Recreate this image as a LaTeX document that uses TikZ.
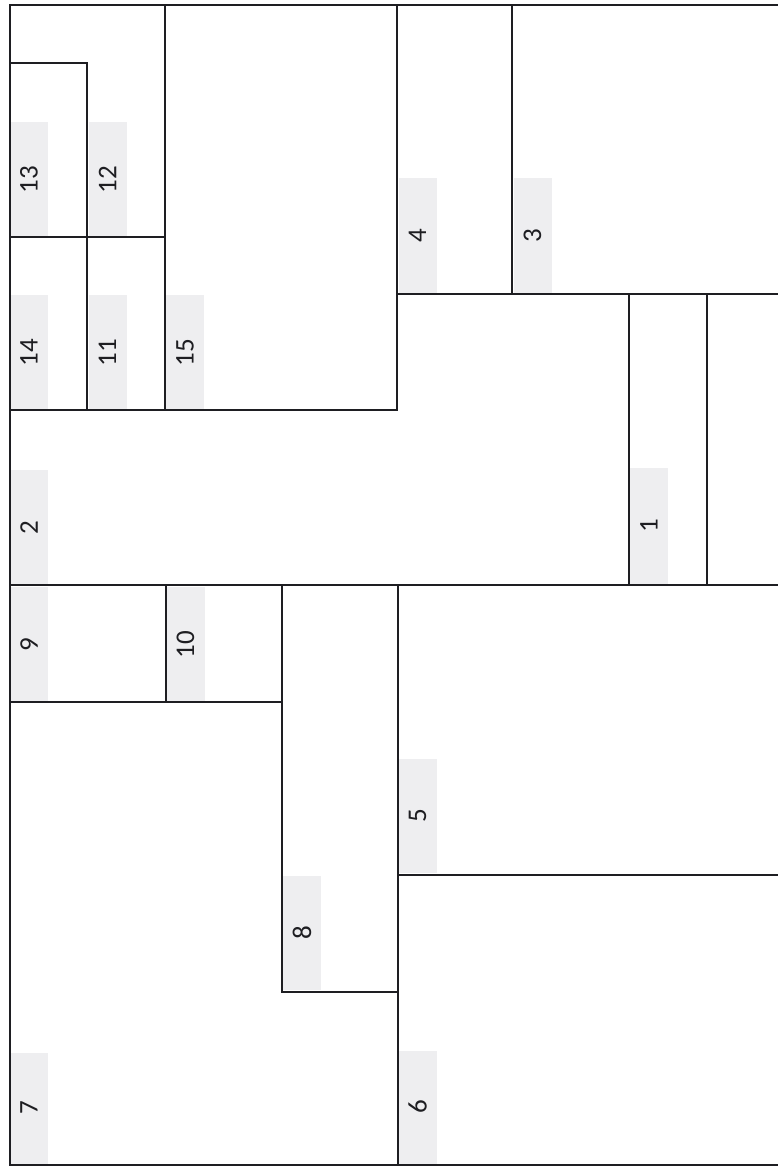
\documentclass[tikz,border=0pt]{standalone}
\usepackage{fontspec}
\setmainfont{Carlito}
\definecolor{labgray}{RGB}{238,238,240}
\definecolor{wallcol}{RGB}{30,30,34}
\begin{document}
\begin{tikzpicture}[x=1pt,y=-1pt,
  lab/.style={fill=labgray, rotate=90, inner sep=0pt, minimum height=38pt,
    font=\fontsize{27}{27}\selectfont, text=wallcol},
  wall/.style={draw=wallcol, line width=2pt, line cap=rect}]
\useasboundingbox (0,0) rectangle (777,1167);
% labels: centre x, centre y, length
\node[lab, minimum width=116pt] (n1)  at (649,526)   {1};
\node[lab, minimum width=115pt] (n2)  at (29,527.5)  {2};
\node[lab, minimum width=116pt] (n3)  at (532.5,236) {3};
\node[lab, minimum width=116pt] (n4)  at (417.5,236) {4};
\node[lab, minimum width=114pt] (n5)  at (417.5,816) {5};
\node[lab, minimum width=113pt] (n6)  at (417.5,1107){6};
\node[lab, minimum width=111pt] (n7)  at (29,1108)   {7};
\node[lab, minimum width=114pt] (n8)  at (302,933)   {8};
\node[lab, minimum width=115pt] (n9)  at (29,644.5)  {9};
\node[lab, minimum width=115pt] (n10) at (185.5,644.5){10};
\node[lab, minimum width=115pt] (n11) at (107.5,352.5){11};
\node[lab, minimum width=115pt] (n12) at (107.5,179.5){12};
\node[lab, minimum width=115pt] (n13) at (29,179.5)  {13};
\node[lab, minimum width=115pt] (n14) at (29,352.5)  {14};
\node[lab, minimum width=115pt] (n15) at (185,352.5) {15};
% walls
\draw[wall] (777,5) -- (9.5,5) -- (9.5,1165) -- (777,1165);
\draw[wall] (165,5) -- (165,410);
\draw[wall] (9.5,63) -- (87,63) -- (87,410);
\draw[wall] (9.5,237) -- (165,237);
\draw[wall] (9.5,410) -- (397,410) -- (397,5);
\draw[wall] (397,294) -- (777,294);
\draw[wall] (512,5) -- (512,294);
\draw[wall] (629,294) -- (629,584.5);
\draw[wall] (707,294) -- (707,584.5);
\draw[wall] (9.5,585) -- (777,585);
\draw[wall] (166,585) -- (166,702);
\draw[wall] (9.5,702) -- (282,702);
\draw[wall] (282,585) -- (282,992) -- (398,992);
\draw[wall] (398,585) -- (398,1165);
\draw[wall] (398,875) -- (777,875);
\end{tikzpicture}
\end{document}
